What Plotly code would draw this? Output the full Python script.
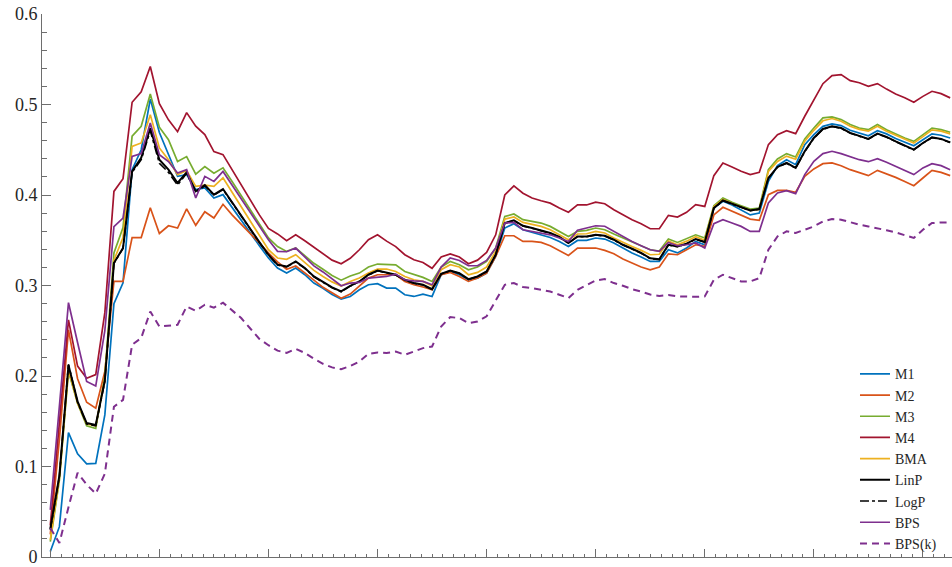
import plotly.graph_objects as go

idx = list(range(100))

M1 = [0.006,0.0335,0.1375,0.114,0.103,0.1035,0.157,0.28,0.303,0.428,
      0.45,0.506,0.469,0.445,0.4206,0.4225,0.406,0.4077,0.3967,0.4004,
      0.386,0.372,0.358,0.344,0.3304,0.3193,0.3137,0.3193,0.3119,0.3027,
      0.297,0.29,0.285,0.2879,0.2953,0.3008,0.302,0.2972,0.2972,0.2898,
      0.2879,0.2905,0.2879,0.3119,0.3155,0.3119,0.3063,0.3082,0.3137,0.3321,
      0.3635,0.3683,0.3616,0.3587,0.356,0.3531,0.3487,0.3432,0.3498,0.3498,
      0.3525,0.3513,0.347,0.3414,0.336,0.3315,0.3266,0.3266,0.3395,0.336,
      0.3414,0.3487,0.345,0.3856,0.393,0.389,0.3838,0.378,0.38,0.415,
      0.4324,0.439,0.4335,0.4556,0.4667,0.4759,0.4785,0.4767,0.4715,0.4685,
      0.4655,0.471,0.4675,0.4625,0.4585,0.4545,0.461,0.4675,0.466,0.463]

M2 = [0.025,0.13,0.251,0.197,0.171,0.1644,0.205,0.3045,0.3045,0.353,
      0.353,0.386,0.3575,0.366,0.3635,0.3847,0.3665,0.3815,0.3746,0.3897,
      0.378,0.368,0.357,0.347,0.336,0.326,0.318,0.3215,0.314,0.306,
      0.298,0.292,0.286,0.2905,0.299,0.3082,0.3119,0.3119,0.3119,0.3045,
      0.3008,0.2983,0.2953,0.3119,0.3145,0.31,0.3045,0.3082,0.3137,0.3321,
      0.355,0.355,0.3487,0.3487,0.3476,0.344,0.3384,0.3332,0.3414,0.3414,
      0.3414,0.3388,0.335,0.3292,0.3248,0.3204,0.3174,0.3204,0.335,0.334,
      0.3395,0.345,0.3432,0.378,0.3864,0.382,0.378,0.3734,0.372,0.4004,
      0.405,0.405,0.403,0.4206,0.4288,0.4346,0.4354,0.4324,0.428,0.4243,
      0.4214,0.4272,0.4236,0.4195,0.415,0.4103,0.4188,0.4272,0.425,0.4214]

M3 = [0.017,0.085,0.205,0.17,0.145,0.142,0.2,0.336,0.364,0.465,
      0.476,0.5117,0.475,0.461,0.437,0.4425,0.423,0.4315,0.424,0.43,
      0.415,0.399,0.383,0.367,0.3525,0.343,0.3377,0.3414,0.333,0.3245,
      0.318,0.311,0.3059,0.3105,0.3137,0.3204,0.3237,0.3237,0.3229,0.3155,
      0.3119,0.309,0.3045,0.3204,0.3266,0.323,0.3174,0.3204,0.3266,0.3414,
      0.3764,0.379,0.3727,0.3709,0.369,0.3653,0.3598,0.3542,0.3598,0.361,
      0.3635,0.3616,0.3569,0.3525,0.348,0.344,0.3395,0.338,0.3514,0.3476,
      0.3514,0.356,0.3525,0.3882,0.3967,0.3919,0.3882,0.3845,0.3856,0.428,
      0.4398,0.4457,0.442,0.462,0.474,0.4852,0.4863,0.4833,0.4778,0.474,
      0.4722,0.4778,0.4722,0.4675,0.463,0.4593,0.4667,0.474,0.4722,0.4693]

M4 = [0.035,0.15,0.262,0.211,0.1976,0.2015,0.27,0.404,0.418,0.5025,
      0.514,0.542,0.501,0.483,0.470,0.491,0.476,0.4667,0.448,0.4446,
      0.428,0.411,0.395,0.378,0.363,0.357,0.3495,0.356,0.3495,0.3425,
      0.336,0.328,0.324,0.330,0.3395,0.3506,0.356,0.349,0.343,0.334,
      0.3285,0.3255,0.319,0.3315,0.335,0.3315,0.324,0.328,0.3366,0.356,
      0.400,0.410,0.402,0.3967,0.3937,0.391,0.3856,0.381,0.389,0.389,
      0.392,0.3904,0.3838,0.378,0.3727,0.3683,0.3627,0.3627,0.3775,0.3757,
      0.3808,0.3893,0.3874,0.4214,0.4354,0.431,0.4262,0.4225,0.425,0.4557,
      0.4667,0.4711,0.4678,0.487,0.5054,0.523,0.532,0.533,0.5264,0.524,
      0.520,0.5231,0.517,0.5117,0.5075,0.5025,0.509,0.5146,0.512,0.5073]

BMA = [0.019,0.087,0.207,0.17,0.147,0.145,0.197,0.328,0.353,0.4537,
       0.4575,0.4888,0.452,0.439,0.4225,0.427,0.4095,0.411,0.4095,0.419,
       0.403,0.387,0.371,0.355,0.3395,0.3304,0.329,0.334,0.325,0.3167,
       0.31,0.304,0.2995,0.3045,0.3082,0.3137,0.3182,0.3182,0.3155,0.31,
       0.3063,0.3045,0.2997,0.3174,0.323,0.3204,0.3119,0.3145,0.3204,0.3377,
       0.3734,0.3757,0.3697,0.3672,0.3653,0.3616,0.356,0.3506,0.3569,0.3572,
       0.3598,0.358,0.3525,0.3476,0.3432,0.3388,0.334,0.3345,0.349,0.345,
       0.349,0.354,0.350,0.387,0.395,0.3905,0.3865,0.383,0.384,0.426,
       0.437,0.443,0.4395,0.4595,0.4715,0.482,0.4845,0.4815,0.476,0.4725,
       0.4705,0.476,0.4705,0.466,0.4615,0.4575,0.4645,0.472,0.4705,0.4675]

LinP = [0.031,0.09,0.212,0.172,0.148,0.146,0.195,0.3248,0.3414,0.426,
        0.441,0.474,0.439,0.428,0.4133,0.425,0.404,0.411,0.4004,0.4066,
        0.392,0.377,0.363,0.348,0.334,0.323,0.321,0.3266,0.3193,0.31,
        0.304,0.298,0.2934,0.2997,0.3045,0.3119,0.3166,0.3145,0.3119,0.3063,
        0.3027,0.3008,0.296,0.313,0.3166,0.3137,0.307,0.31,0.3155,0.334,
        0.369,0.372,0.366,0.3635,0.361,0.358,0.3536,0.347,0.3542,0.3542,
        0.356,0.355,0.3506,0.345,0.3406,0.336,0.330,0.329,0.345,0.3432,
        0.3462,0.3514,0.348,0.3856,0.394,0.3904,0.3867,0.383,0.3845,0.4188,
        0.431,0.4354,0.4299,0.4483,0.463,0.473,0.4759,0.474,0.4686,0.4656,
        0.462,0.4678,0.4642,0.4593,0.4549,0.4501,0.4575,0.4637,0.462,0.4582]

LogP = [0.030,0.089,0.213,0.171,0.147,0.145,0.194,0.3245,0.341,0.425,
        0.439,0.471,0.435,0.425,0.411,0.424,0.403,0.410,0.400,0.406,
        0.3915,0.3765,0.3625,0.3475,0.3335,0.3225,0.3205,0.326,0.319,0.3095,
        0.3035,0.2975,0.293,0.2993,0.3042,0.3116,0.3163,0.3142,0.3116,0.306,
        0.3024,0.3005,0.2957,0.3127,0.3163,0.3134,0.3067,0.3097,0.3152,0.3337,
        0.3687,0.3717,0.3657,0.3632,0.3607,0.3577,0.3533,0.3467,0.3539,0.3539,
        0.3557,0.3547,0.3503,0.3447,0.3403,0.3357,0.3297,0.3287,0.3447,0.3429,
        0.3459,0.3511,0.3477,0.3853,0.3937,0.3901,0.3864,0.3827,0.3842,0.4185,
        0.4307,0.4351,0.4296,0.448,0.4627,0.4727,0.4756,0.4737,0.4683,0.4653,
        0.4617,0.4675,0.4639,0.459,0.4546,0.4498,0.4572,0.4634,0.4617,0.4579]

BPS = [0.052,0.165,0.281,0.237,0.194,0.189,0.25,0.365,0.3746,0.4427,
       0.4457,0.4796,0.4446,0.437,0.4243,0.428,0.3967,0.4206,0.415,0.426,
       0.411,0.396,0.381,0.366,0.3506,0.3377,0.3373,0.3414,0.332,0.3216,
       0.315,0.307,0.2997,0.3027,0.3034,0.3082,0.3093,0.31,0.3126,0.3063,
       0.3052,0.3045,0.3008,0.3204,0.3304,0.3277,0.3218,0.3218,0.3277,0.3414,
       0.369,0.3697,0.3616,0.3598,0.358,0.356,0.3525,0.3487,0.361,0.3635,
       0.366,0.3655,0.3598,0.3542,0.3487,0.344,0.3395,0.3377,0.3476,0.344,
       0.345,0.347,0.3414,0.3683,0.3727,0.369,0.3653,0.3598,0.3598,0.3912,
       0.4022,0.4048,0.4015,0.4225,0.4372,0.4457,0.4483,0.4457,0.442,0.439,
       0.4368,0.4402,0.4361,0.4317,0.4272,0.4225,0.4299,0.4346,0.4324,0.428]

BPSk = [0.032,0.0155,0.055,0.093,0.08,0.07,0.092,0.166,0.1736,0.2345,
        0.242,0.2713,0.2547,0.256,0.2566,0.2768,0.272,0.2787,0.2755,0.281,
        0.272,0.264,0.2525,0.241,0.234,0.228,0.2255,0.23,0.2255,0.219,
        0.2135,0.2095,0.2075,0.211,0.216,0.2245,0.226,0.2253,0.227,0.2234,
        0.227,0.2308,0.2326,0.2547,0.2651,0.264,0.2585,0.2602,0.266,0.2842,
        0.3008,0.3027,0.2983,0.2972,0.2953,0.2934,0.2898,0.2861,0.2953,0.3008,
        0.3056,0.3071,0.3027,0.2997,0.296,0.2934,0.29,0.2885,0.2895,0.288,
        0.2875,0.2875,0.288,0.3063,0.3119,0.3082,0.3045,0.3045,0.3082,0.3395,
        0.3542,0.3598,0.358,0.3616,0.3653,0.3709,0.3734,0.3727,0.3697,0.3672,
        0.3653,0.3635,0.361,0.3587,0.356,0.3525,0.3616,0.369,0.3697,0.3697]

y_ticks = [0, 0.1, 0.2, 0.3, 0.4, 0.5, 0.6]
y_tick_text = ["0", "0.1", "0.2", "0.3", "0.4", "0.5", "0.6"]
x_major = [0, 12, 24, 36, 48, 60, 72, 84, 96]

series = [
    ("M1", M1, "#0072BD", 1.7, "solid"),
    ("M2", M2, "#D95319", 1.7, "solid"),
    ("M3", M3, "#77AC30", 1.7, "solid"),
    ("M4", M4, "#A2142F", 1.7, "solid"),
    ("BMA", BMA, "#EDB120", 1.7, "solid"),
    ("LinP", LinP, "#000000", 2.0, "solid"),
    ("LogP", LogP, "#000000", 1.6, "dashdot"),
    ("BPS", BPS, "#7E2F8E", 1.7, "solid"),
    ("BPS(k)", BPSk, "#7E2F8E", 2.0, "7px,5px"),
]

SERIF = "Liberation Serif"

fig = go.Figure()
for name, vals, color, w, dash in series:
    fig.add_trace(go.Scatter(x=idx, y=vals, mode="lines", name=name,
                             line=dict(color=color, width=w, dash=dash)))

axis_color = "#6e6e6e"
fig.update_layout(
    width=952, height=567, autosize=False,
    margin=dict(l=42, r=0, t=14, b=10, autoexpand=False),
    plot_bgcolor="white", paper_bgcolor="white",
    font=dict(family=SERIF, size=16, color="#262626"),
    showlegend=True,
    hovermode=False,
    legend=dict(x=0.8934, y=0.366, xanchor="left", yanchor="top",
                bgcolor="rgba(0,0,0,0)", borderwidth=0,
                font=dict(family=SERIF, size=14, color="#262626"),
                itemwidth=30, tracegroupgap=0),
)
fig.update_xaxes(
    range=[-0.913, 99.2], showgrid=False, zeroline=False, automargin=False,
    showline=True, linecolor=axis_color, linewidth=1,
    tickmode="array", tickvals=x_major, ticks="inside", ticklen=8,
    tickcolor=axis_color, showticklabels=False,
    minor=dict(ticks="inside", ticklen=3.5, tickcolor=axis_color, dtick=1.2, tick0=0, showgrid=False),
)
fig.update_yaxes(
    range=[0, 0.6], showgrid=False, zeroline=False, automargin=False,
    showline=True, linecolor=axis_color, linewidth=1,
    tickmode="array", tickvals=y_ticks, ticktext=y_tick_text,
    ticks="inside", ticklen=9, tickcolor=axis_color, ticklabeloverflow="allow",
    tickfont=dict(family=SERIF, size=18, color="#262626"),
    minor=dict(ticks="inside", ticklen=4.5, tickcolor=axis_color, dtick=0.02, tick0=0, showgrid=False),
)

# remove the browser's default 8px page margin so the figure fills the window exactly
fig.write_html("out.html", config={"displayModeBar": False},
               post_script="document.body.style.margin='0';document.body.style.overflow='hidden';")
